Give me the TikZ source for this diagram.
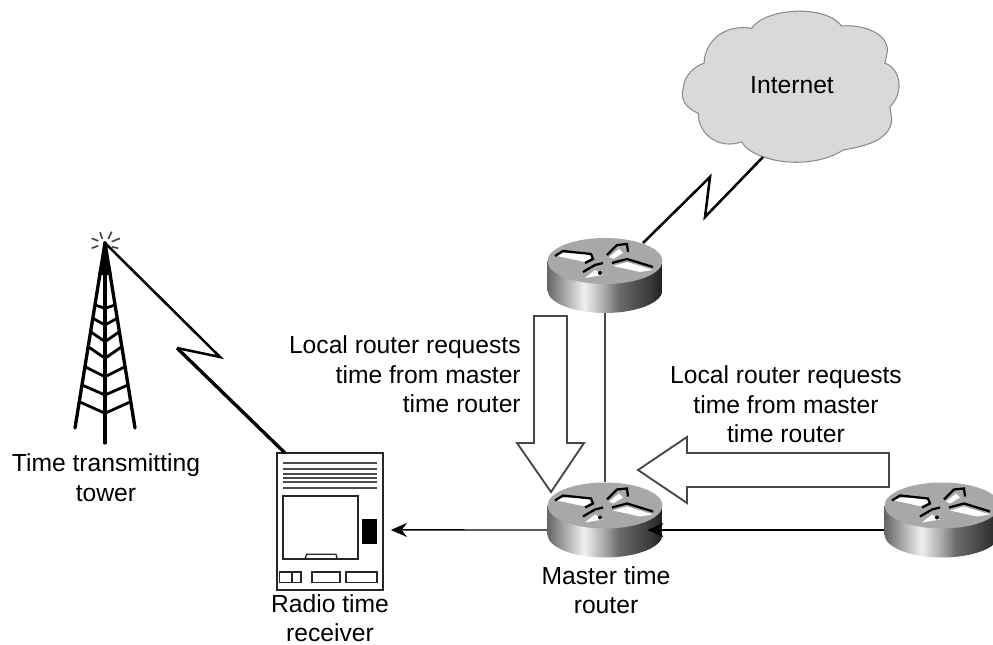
\documentclass[tikz,border=0pt]{standalone}
\usepackage{fontspec}
\setmainfont{Liberation Sans}
\usetikzlibrary{arrows.meta}

\definecolor{cloudfill}{gray}{0.85}
\definecolor{cloudline}{gray}{0.55}
\definecolor{routertop}{gray}{0.66}
\definecolor{calloutline}{gray}{0.28}
\pgfdeclarehorizontalshading{routerside}{100bp}{
  color(0bp)=(black!60); color(25bp)=(black!60); color(41bp)=(black!6);
  color(50bp)=(black!35); color(56bp)=(black!58); color(70bp)=(black!78);
  color(75bp)=(black!88); color(100bp)=(black!88)}

\tikzset{
  routerbox/.style={minimum width=86.25pt,minimum height=56.25pt,inner sep=0pt},
  lbl/.style={inner sep=0pt,align=center,font=\fontsize{18.5}{22.2}\selectfont},
  zigzag/.style={line width=1.9pt,line join=miter},
  callout/.style={draw=calloutline,fill=white,line width=1.4pt},
  wire/.style={line width=1.1pt},
  wiretip/.style={-{Stealth[length=12pt,width=10.5pt]}}
}

% router icon: name, x, y
\newcommand{\routericon}[3]{
  \node [routerbox] (#1) at (#2,#3) {};
  \begin{scope}[shift={(#2,#3)}]
    \shade [shading=routerside] (-57.5,-14.5) -- (-57.5,14.5) arc [start angle=180,end angle=0,x radius=57.5,y radius=23] -- (57.5,-14.5) -- cycle;
    \fill [routertop] (0,-14.5) ellipse [x radius=57.5,y radius=23];
    \begin{scope}[shift={(0,-8.5)}]
      \fill [white] (-48,-11) -- (-20,-5) -- (-12,-10) -- (-17,-13) -- (-42,-14) -- cycle;
      \draw [line width=1.7pt] (-50,-11) -- (-42,-16) -- (-14,-13) -- (-12,-8) -- (-20,-4);
      \fill [white] (4,-10) -- (14,-18) -- (18,-14) -- (8,-8) -- cycle;
      \draw [line width=1.7pt] (2,-12) -- (12,-22) -- (22,-23) -- (23,-15);
      \fill [white] (8,-1) -- (35,5) -- (48,3) -- (22,-5) -- cycle;
      \draw [line width=1.7pt] (7,-4) -- (22,-8) -- (48,0);
      \fill [white] (-20,11) -- (-2,8) -- (-10,3) -- cycle;
      \draw [line width=1.7pt] (-22,5) -- (-10,-2) -- (-2,-4);
      \fill (-5,6) circle [radius=2];
    \end{scope}
  \end{scope}
}

\begin{document}
\begin{tikzpicture}[x=0.75pt,y=0.75pt,yscale=-1,xscale=1]
    \useasboundingbox (0,0) rectangle (993,645);

    %Cloud
    \draw [draw=cloudline,fill=cloudfill,line width=0.8pt] (751.7,28.3) .. controls (765,8) and (825,4) .. (841.7,26) .. controls (865,24) and (892,35) .. (886.7,55) -- (885,63.3) .. controls (900,68) and (905,92) .. (890,106.7) -- (891.7,120) .. controls (890,142) and (860,147) .. (843.3,150) .. controls (820,165) and (785,165) .. (763,156.7) .. controls (752,153) and (745,148) .. (741.7,141.7) .. controls (720,150) and (698,135) .. (698.3,113.3) .. controls (685,108) and (680,98) .. (683.3,88.3) .. controls (684,75) and (695,66) .. (704,63.3) .. controls (705,40) and (725,24) .. (751.7,28.3) -- cycle;
    % Text Node
    \draw (792,85) node (internet) [lbl] {Internet};

    %Hollow arrow, down
    \draw [callout] (534,316) -- (567,316) -- (567,443) -- (584,443) -- (551,492) -- (517,443) -- (534,443) -- cycle;
    %Hollow arrow, left
    \draw [callout] (889,453) -- (687,453) -- (687,437) -- (638,470) -- (687,503) -- (687,487) -- (889,487) -- cycle;

    %Routers
    \routericon{toprouter}{605}{275.5}
    \routericon{masterrouter}{605}{520}
    \routericon{localrouter}{942}{520}

    %Receiver
    \node [minimum width=80pt,minimum height=102.5pt,inner sep=0pt,draw=black!85,line width=1.4pt] (receiver) at (330,521.7) {};
    \draw [black!70,line width=1.5pt] (282.7,463.3) -- (376.7,463.3) (282.7,469) -- (376.7,469) (282.7,473.5) -- (376.7,473.5) (282.7,477.8) -- (376.7,477.8) (282.7,481.7) -- (376.7,481.7) (282.7,487.7) -- (376.7,487.7);
    \draw [black!85,line width=1.3pt] (283.3,495.7) rectangle (358.3,559.3);
    \draw [black!85,line width=1pt] (305,559) -- (306.7,554.3) -- (336,554.3) -- (337.3,559);
    \fill (362.3,519.3) rectangle (376.7,544.3);
    \draw [black!85,line width=1.2pt] (279.3,571.7) rectangle (300.7,582.3) (291.7,571.7) -- (291.7,582.3);
    \draw [black!85,line width=1.2pt] (311.7,571.7) rectangle (340,582.3);
    \draw [black!85,line width=1.2pt] (345.7,571.7) rectangle (376.7,582.3);

    %Tower
    \coordinate (towertop) at (105,243);
    \fill (towertop) -- (112,275) -- (98,275) -- cycle;
    \draw [line width=2.5pt,line cap=round] (towertop) -- (75,428);
    \draw [line width=2.5pt,line cap=round] (towertop) -- (135,428);
    \draw [line width=2.5pt,line cap=round] (towertop) -- (105,443);
    \draw [line width=2.1pt] (79.3,401.7) -- (105,413.3) -- (130.7,401.7);
    \draw [line width=2.1pt] (82,385) -- (105,395) -- (128,385);
    \draw [line width=2.1pt] (85,366.7) -- (105,376.7) -- (125,366.7);
    \draw [line width=2.1pt] (88.2,346.7) -- (105,358.3) -- (121.8,346.7);
    \draw [line width=2.1pt] (90.6,331.7) -- (105,341.7) -- (119.4,331.7);
    \draw [line width=2.1pt] (92.8,318.3) -- (105,325) -- (117.2,318.3);
    \draw [line width=2.1pt] (95,305) -- (105,308.3) -- (115,305);
    %Rays
    \draw [black!75,line width=1.2pt] (91.7,238.3) -- (98.3,241) (100,232.3) -- (102.3,239) (111.7,231.7) -- (108.3,239) (120,238.3) -- (111.7,241.7) (91.7,248.3) -- (98.3,245.7) (118.3,248.3) -- (111.7,246.7);

    %Connectors
    \coordinate (kinkcloudb) at (705,217);
    \coordinate (kinkcloudt) at (710,177);
    \coordinate (cloudfoot) at (763,157);
    \coordinate (routerfoot) at (643,243);
    \draw [zigzag] (cloudfoot) -- (kinkcloudb) -- (kinkcloudt) -- (routerfoot);
    \coordinate (kinktowerb) at (220,357);
    \coordinate (kinktowert) at (177,348);
    \coordinate (receiverfoot) at (285,453);
    \draw [line width=1.9pt] (towertop) -- (kinktowerb) -- (kinktowert);
    \draw [line width=2.5pt] (kinktowert) -- (receiverfoot);
    \draw [calloutline,wire] (toprouter.south) -- (masterrouter.north);
    \draw [wire,wiretip] ([yshift=7.5pt]masterrouter.west) -- ([yshift=6.2pt,xshift=5pt]receiver.east);
    \draw [wire,wiretip] ([yshift=7.5pt]localrouter.west) -- ([yshift=7.5pt,xshift=-11.5pt]masterrouter.east);

    % Text Node
    \draw (521,374.5) node (reqleft) [lbl,anchor=east,align=right] {Local router requests\\time from master\\time router};
    % Text Node
    \draw (786,404.5) node (reqright) [lbl] {Local router requests\\time from master\\time router};
    % Text Node
    \draw (106,477.5) node (towerlbl) [lbl] {Time transmitting\\tower};
    % Text Node
    \draw (606,590) node (masterlbl) [lbl] {Master time\\router};
    % Text Node
    \draw (330,618) node (receiverlbl) [lbl] {Radio time\\receiver};
\end{tikzpicture}
\end{document}
